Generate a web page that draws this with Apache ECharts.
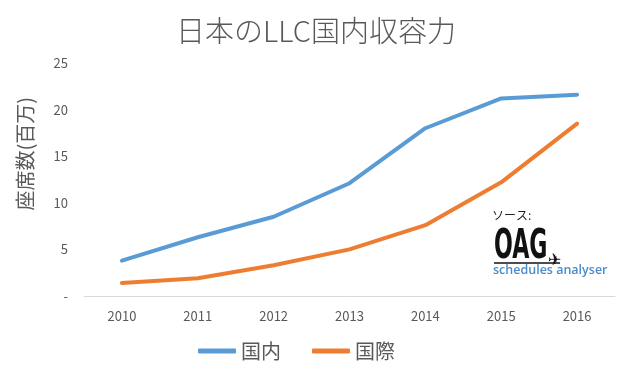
<!DOCTYPE html>
<html>
<head>
<meta charset="utf-8">
<script src="https://cdn.jsdelivr.net/npm/echarts@6/dist/echarts.min.js"></script>
<style>
  html, body { margin: 0; padding: 0; background: #fff; }
  #chart { width: 632px; height: 377px; }
</style>
</head>
<body>
<div id="chart"></div>
<script>
  // 年
  const years = ['2010', '2011', '2012', '2013', '2014', '2015', '2016']
  // 座席数（百万）
  const domestic = [3.8, 6.3, 8.5, 12.1, 18.0, 21.2, 21.6]
  const international = [1.4, 1.9, 3.3, 5.0, 7.6, 12.2, 18.5]
  const seriesNames = ['国内', '国際']

  const FONT = '"Noto Sans CJK JP", "Noto Sans", sans-serif'
  const GREY = '#595959'

  const myChart = echarts.init(document.getElementById('chart'))
  const option = {
    backgroundColor: '#fff',
    animation: false,
    title: {
      text: '日本のLLC国内収容力',
      left: 'center',
      top: 11,
      textStyle: { fontFamily: FONT, fontSize: 29, fontWeight: 300, color: GREY }
    },
    legend: {
      left: 193,
      top: 336,
      icon: 'roundRect',
      itemWidth: 38,
      itemHeight: 5,
      itemGap: 31,
      textStyle: { fontFamily: FONT, fontSize: 20, color: GREY },
      data: seriesNames
    },
    grid: { left: 84, right: 17, top: 63, bottom: 81 },
    xAxis: {
      type: 'category',
      data: years,
      axisLine: { lineStyle: { color: '#d9d9d9', width: 1 } },
      axisTick: { show: false },
      axisLabel: { fontFamily: FONT, fontSize: 13, color: GREY, margin: 14 }
    },
    yAxis: {
      type: 'value',
      min: 0,
      max: 25,
      interval: 5,
      axisLine: { show: false },
      axisTick: { show: false },
      splitLine: { show: false },
      axisLabel: {
        fontFamily: FONT, fontSize: 13, color: GREY, margin: 16,
        formatter: v => (v === 0 ? '-' : v)
      }
    },
    graphic: [
      {
        type: 'text', left: 15, top: 97, rotation: Math.PI / 2, originX: 0, originY: 0,
        style: { text: '座席数(百万)', fontFamily: FONT, fontSize: 20, fill: GREY },
        position: [15, 214]
      },
      {
        type: 'text', left: 492, top: 209,
        style: { text: 'ソース:', fontFamily: FONT, fontSize: 12, fill: '#222' }
      },
      {
        type: 'text', x: 494, y: 227, scaleX: 0.6, scaleY: 1,
        style: { text: 'OAG', fontFamily: '"DejaVu Sans Condensed", "Liberation Sans", sans-serif', fontSize: 41, fontWeight: 'bold', fill: '#111' }
      },
      {
        type: 'line', shape: { x1: 494, y1: 263, x2: 560, y2: 263 },
        style: { stroke: '#111', lineWidth: 1.5 }
      },
      {
        type: 'text', left: 548, top: 253,
        style: { text: '✈', fontFamily: 'DejaVu Sans', fontSize: 16, fill: '#111' }
      },
      {
        type: 'text', left: 493, top: 264,
        style: { text: 'schedules analyser', fontFamily: '"Open Sans", "Noto Sans", sans-serif', fontSize: 12.5, fontWeight: 600, fill: '#4a8ccb' }
      }
    ],
    series: [
      {
        name: seriesNames[0],
        type: 'line',
        data: domestic,
        symbol: 'none',
        lineStyle: { color: '#5b9bd5', width: 4, cap: 'round', join: 'round' },
        itemStyle: { color: '#5b9bd5' }
      },
      {
        name: seriesNames[1],
        type: 'line',
        data: international,
        symbol: 'none',
        lineStyle: { color: '#ed7d31', width: 4, cap: 'round', join: 'round' },
        itemStyle: { color: '#ed7d31' }
      }
    ]
  }
  myChart.setOption(option)
</script>
</body>
</html>
